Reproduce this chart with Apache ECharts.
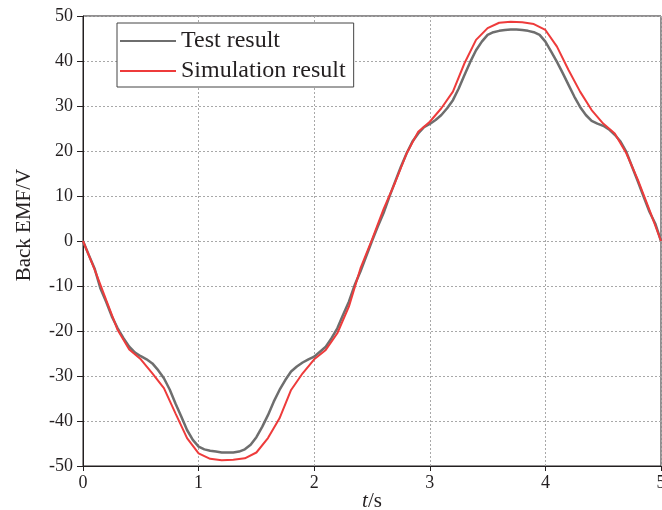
<!DOCTYPE html>
<html>
<head>
<meta charset="utf-8">
<script src="https://cdn.jsdelivr.net/npm/echarts@6/dist/echarts.min.js"></script>
<style>
  html, body { margin: 0; padding: 0; background: #fff; }
  #chart { width: 662px; height: 510px; }
</style>
</head>
<body>
<div id="chart"></div>
<script>
// Time axis samples (s)
const timeTest = [];
for (let i = 0; i <= 100; i++) timeTest.push(+(i * 0.05).toFixed(2));
const timeSim = [];
for (let i = 0; i <= 50; i++) timeSim.push(+(i * 0.1).toFixed(1));

// Measured back EMF (V), sampled every 0.05 s
const testEmf = [
  0, -3.1, -6.1, -10.5, -13.5, -16.8, -19.4, -21.6, -23.5, -24.8,
  -25.6, -26.3, -27.2, -28.7, -30.5, -33.0, -36.1, -39.0, -42.0, -44.2,
  -45.7, -46.3, -46.6, -46.8, -47.0, -47.0, -47.0, -46.8, -46.3, -45.3,
  -43.6, -41.3, -38.7, -35.7, -33.1, -30.9, -29.0, -27.9, -27.0, -26.3,
  -25.7, -24.6, -23.5, -21.6, -19.4, -16.4, -13.5, -9.8, -6.8, -3.4,
  0, 3.2, 6.2, 9.8, 13.2, 16.5, 19.5, 22.1, 23.9, 25.3,
  26.0, 26.9, 28.0, 29.5, 31.3, 33.9, 36.9, 39.8, 42.4, 44.3,
  45.8, 46.4, 46.7, 46.9, 47.0, 47.0, 46.9, 46.7, 46.4, 45.8,
  44.3, 42.1, 39.8, 37.3, 34.7, 32.1, 29.8, 28.0, 26.7, 26.1,
  25.6, 24.8, 23.6, 22.1, 19.8, 16.5, 13.2, 9.8, 6.5, 3.9,
  0
];

// Simulated back EMF (V), sampled every 0.1 s
const simEmf = [
  0, -6.3, -13.1, -19.8, -24.1, -26.3, -29.4, -32.7, -38.3, -43.8,
  -47.2, -48.4, -48.7, -48.6, -48.3, -47.0, -43.8, -39.4, -33.1, -29.4,
  -26.3, -24.2, -20.5, -14.6, -6.1, 0.3, 7.1, 13.0, 19.5, 24.3,
  26.5, 29.5, 33.2, 39.5, 44.7, 47.3, 48.5, 48.7, 48.6, 48.2,
  46.9, 43.2, 38.0, 33.2, 29.1, 26.1, 23.9, 19.5, 13.6, 6.9,
  0
];

const xTicks = [0, 1, 2, 3, 4, 5];
const yTicks = [-50, -40, -30, -20, -10, 0, 10, 20, 30, 40, 50];

const seriesNames = ['Test result', 'Simulation result'];

const ink = '#231f20';
const serif = '"Liberation Serif", "Times New Roman", serif';

const chart = echarts.init(document.getElementById('chart'), null, { renderer: 'canvas' });

const pairs = (xs, ys) => xs.map((x, i) => [x, ys[i]]);

chart.setOption({
  animation: false,
  backgroundColor: '#fff',
  grid: {
    left: 83, top: 16, width: 578, height: 450,
    outerBoundsMode: 'none',
    containLabel: false,
    show: true, borderColor: ink, borderWidth: 1
  },
  legend: {
    orient: 'vertical',
    left: 117, top: 23,
    padding: [6, 8, 4, 3],
    itemGap: 6,
    itemWidth: 56, itemHeight: 24,
    borderColor: '#444', borderWidth: 1,
    backgroundColor: '#fff',
    icon: 'path://M0,11 L56,11 L56,13.2 L0,13.2 Z',
    textStyle: { fontFamily: serif, fontSize: 24, color: ink, lineHeight: 24 },
    data: seriesNames
  },
  xAxis: {
    type: 'value',
    min: xTicks[0], max: xTicks[xTicks.length - 1], interval: 1,
    name: '{i|t}/s',
    nameLocation: 'middle',
    nameGap: 25,
    nameMoveOverlap: false,
    nameTextStyle: {
      fontFamily: serif, fontSize: 21, color: ink,
      rich: { i: { fontFamily: serif, fontSize: 21, fontStyle: 'italic', color: ink } }
    },
    axisLine: { onZero: false, lineStyle: { color: ink, width: 1 } },
    axisTick: { show: true, length: 5, lineStyle: { color: ink } },
    axisLabel: { fontFamily: serif, fontSize: 18, color: ink, margin: 8 },
    splitLine: { show: true, lineStyle: { color: '#a8a8a8', type: [2, 2], width: 1 } }
  },
  yAxis: {
    type: 'value',
    min: yTicks[0], max: yTicks[yTicks.length - 1], interval: 10,
    name: 'Back EMF/V',
    nameLocation: 'middle',
    nameGap: 48,
    nameMoveOverlap: false,
    nameTextStyle: { fontFamily: serif, fontSize: 21, color: ink, padding: [0, 0, 0, 32] },
    axisLine: { onZero: false, lineStyle: { color: ink, width: 1 } },
    axisTick: { show: true, length: 6, lineStyle: { color: ink } },
    axisLabel: { fontFamily: serif, fontSize: 18, color: ink, margin: 10 },
    splitLine: { show: true, lineStyle: { color: '#a8a8a8', type: [2, 2], width: 1 } }
  },
  series: [
    {
      name: seriesNames[0],
      type: 'line',
      data: pairs(timeTest, testEmf),
      showSymbol: false,
      symbol: 'none',
      color: '#6e6e6e',
      lineStyle: { color: '#6e6e6e', width: 2.5 },
      z: 2
    },
    {
      name: seriesNames[1],
      type: 'line',
      data: pairs(timeSim, simEmf),
      showSymbol: false,
      symbol: 'none',
      color: '#ee3b3b',
      lineStyle: { color: '#ee3b3b', width: 2 },
      z: 3
    }
  ]
});
</script>
</body>
</html>
